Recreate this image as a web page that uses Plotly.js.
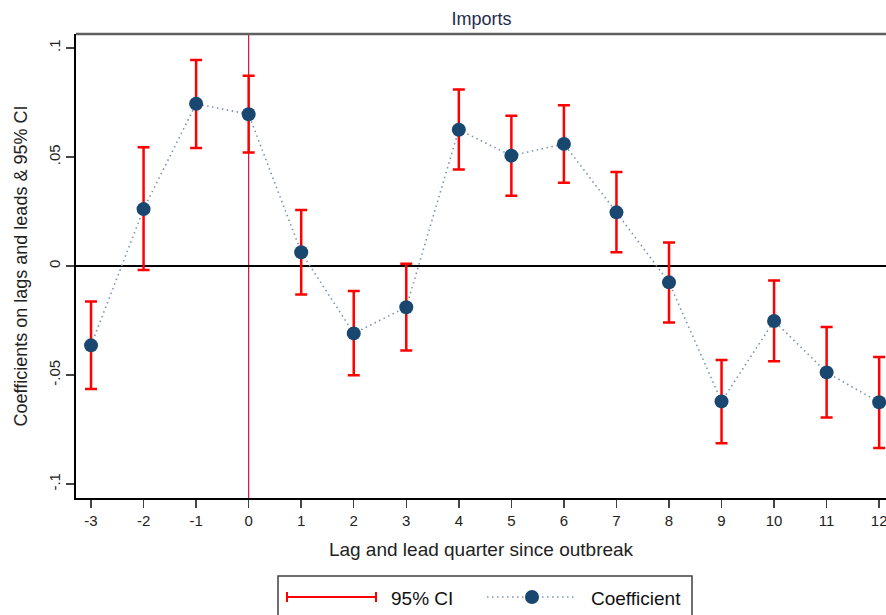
<!DOCTYPE html>
<html>
<head>
<meta charset="utf-8">
<script src="https://cdn.plot.ly/plotly-3.0.1.min.js"></script>
<style>html,body{margin:0;padding:0;background:#fff;}#chart{width:886px;height:615px;}</style>
</head>
<body>
<div id="chart"></div>
<script>
// Data
var quarters = [-3, -2, -1, 0, 1, 2, 3, 4, 5, 6, 7, 8, 9, 10, 11, 12];
var coef     = [-0.0364, 0.0261, 0.0744, 0.0696, 0.0063, -0.0309, -0.0189, 0.0625, 0.0506, 0.0560, 0.0246, -0.0075, -0.0621, -0.0252, -0.0488, -0.0625];
var ciHigh   = [-0.0163, 0.0545, 0.0945, 0.0873, 0.0257, -0.0115, 0.0010, 0.0809, 0.0689, 0.0737, 0.0431, 0.0108, -0.0431, -0.0067, -0.0280, -0.0417];
var ciLow    = [-0.0564, -0.0018, 0.0541, 0.0520, -0.0131, -0.0501, -0.0387, 0.0442, 0.0322, 0.0382, 0.0063, -0.0259, -0.0813, -0.0437, -0.0695, -0.0835];
var yTickVals = [-0.1, -0.05, 0, 0.05, 0.1];
var yTickText = ["-.1", "-.05", "0", ".05", ".1"];
var xTickVals = quarters;
var xTickText = quarters.map(String);
var eventQuarter = 0;

var errPlus = ciHigh.map(function (h, i) { return h - coef[i]; });
var errMinus = ciLow.map(function (l, i) { return coef[i] - l; });

var FONT = "Liberation Sans, Arial, sans-serif";
var RED = "#ff0000";
var NAVY = "#1a476f";
var DOTC = "#7d93b2";
var DOTDASH = "1.5px,3.5px";

var traces = [
  {
    x: quarters, y: coef, type: "scatter", mode: "lines",
    line: {color: DOTC, width: 1.6, dash: DOTDASH},
    hoverinfo: "skip", showlegend: false
  },
  {
    x: quarters, y: coef, type: "scatter", mode: "markers",
    marker: {color: NAVY, size: 14},
    error_y: {type: "data", symmetric: false, array: errPlus, arrayminus: errMinus,
              color: RED, thickness: 2.5, width: 6},
    showlegend: false
  }
];

// paper coordinate helpers for legend (plot area 76..886 x, 34..498 y)
function px(v) { return (v - 76) / 810; }
function py(v) { return (498 - v) / 464; }

var shapes = [
  // top border
  {type: "line", xref: "paper", yref: "paper", x0: 0, x1: 1, y0: 1, y1: 1,
   line: {color: "#5f5f5f", width: 2.5}},
  // event line at outbreak quarter
  {type: "line", xref: "x", yref: "paper", x0: eventQuarter, x1: eventQuarter, y0: 0, y1: 1,
   line: {color: "#d0103a", width: 1.2}, layer: "below"},
  // legend box
  {type: "rect", xref: "paper", yref: "paper", x0: px(278), x1: px(692), y0: py(625), y1: py(576),
   line: {color: "#404040", width: 1.5}, fillcolor: "rgba(0,0,0,0)"},
  // legend CI symbol
  {type: "line", xref: "paper", yref: "paper", x0: px(287), x1: px(376), y0: py(597), y1: py(597),
   line: {color: RED, width: 2}},
  {type: "line", xref: "paper", yref: "paper", x0: px(287), x1: px(287), y0: py(592), y1: py(602),
   line: {color: RED, width: 2}},
  {type: "line", xref: "paper", yref: "paper", x0: px(376), x1: px(376), y0: py(592), y1: py(602),
   line: {color: RED, width: 2}},
  // legend coefficient symbol
  {type: "line", xref: "paper", yref: "paper", x0: px(487), x1: px(576), y0: py(597), y1: py(597),
   line: {color: DOTC, width: 1.6, dash: DOTDASH}},
  {type: "circle", xref: "paper", yref: "paper", xsizemode: "pixel", ysizemode: "pixel",
   xanchor: px(532), yanchor: py(597), x0: -7, x1: 7, y0: -7, y1: 7,
   line: {color: NAVY, width: 0}, fillcolor: NAVY}
];

var annotations = [
  {xref: "paper", yref: "paper", x: px(389), y: py(598), xanchor: "left", yanchor: "middle",
   text: "95% CI", showarrow: false, font: {family: FONT, size: 19, color: "#111"}},
  {xref: "paper", yref: "paper", x: px(589), y: py(598), xanchor: "left", yanchor: "middle",
   text: "Coefficient", showarrow: false, font: {family: FONT, size: 19, color: "#111"}}
];

var layout = {
  width: 886, height: 615,
  margin: {l: 76, r: 0, t: 34, b: 117},
  paper_bgcolor: "#ffffff", plot_bgcolor: "#ffffff",
  font: {family: FONT, color: "#222"},
  showlegend: false,
  title: {text: "Imports", x: 0.5435, xanchor: "center", y: 0.97, yanchor: "middle",
          font: {family: FONT, size: 18, color: "#1e2c4e"}},
  xaxis: {
    range: [-3.286, 12.13], showgrid: false, zeroline: false,
    showline: true, linecolor: "#000", linewidth: 2,
    ticks: "outside", ticklen: 8, tickwidth: 1.5, tickcolor: "#444",
    tickvals: xTickVals, ticktext: xTickText, ticklabeloverflow: "allow",
    tickfont: {family: FONT, size: 15, color: "#222"},
    title: {text: "Lag and lead quarter since outbreak", standoff: 15,
            font: {family: FONT, size: 19, color: "#222"}},
    fixedrange: true
  },
  yaxis: {
    range: [-0.1064, 0.1064], showgrid: false,
    zeroline: true, zerolinecolor: "#000", zerolinewidth: 1.2,
    showline: true, linecolor: "#000", linewidth: 2,
    ticks: "outside", ticklen: 8, tickwidth: 1.5, tickcolor: "#444",
    tickvals: yTickVals, ticktext: yTickText, tickangle: -90,
    tickfont: {family: FONT, size: 15, color: "#222"},
    title: {text: "Coefficients on lags and leads &amp; 95% CI", standoff: 14,
            font: {family: FONT, size: 18, color: "#222"}},
    fixedrange: true
  },
  shapes: shapes,
  annotations: annotations
};

Plotly.newPlot("chart", traces, layout, {displayModeBar: false, staticPlot: true});
</script>
</body>
</html>
